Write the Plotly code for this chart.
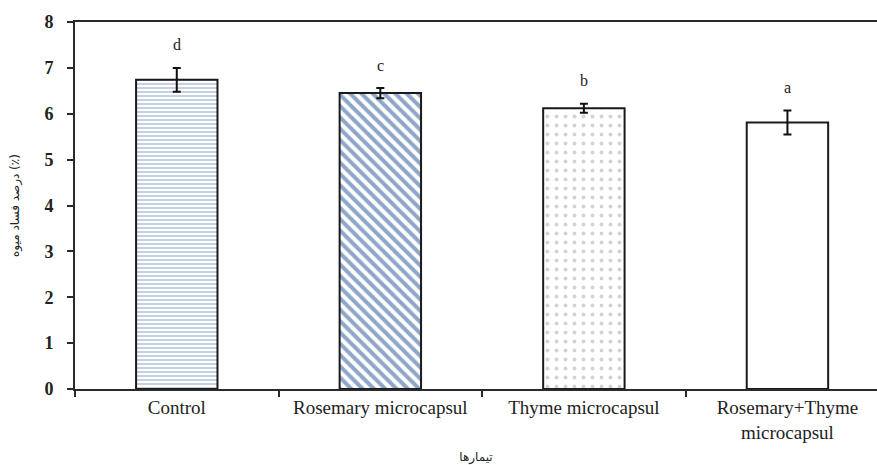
import plotly.graph_objects as go

categories = ["Control", "Rosemary microcapsul", "Thyme microcapsul", "Rosemary+Thyme<br>microcapsul"]
values = [6.74, 6.45, 6.12, 5.81]
errors = [0.26, 0.11, 0.10, 0.26]
letters = ["d", "c", "b", "a"]
y_ticks = [0, 1, 2, 3, 4, 5, 6, 7, 8]

patterns = ["-", "\\", ".", ""]
pat_colors = ["#7f98ba", "#1d4d8f", "#a8a8a8", "#000000"]
pat_sizes = [4, 8, 9, 8]
pat_solid = [0.45, 0.5, 0.15, 0.3]

fig = go.Figure()
for i, c in enumerate(categories):
    fig.add_trace(go.Bar(
        x=[c], y=[values[i]],
        width=0.4,
        marker=dict(
            color="white",
            line=dict(color="#1a1a1a", width=2),
            pattern=dict(shape=patterns[i], fgcolor=pat_colors[i], bgcolor="white",
                         size=pat_sizes[i], solidity=pat_solid[i], fillmode="overlay"),
        ),
        error_y=dict(type="data", array=[errors[i]], color="#111111", thickness=2, width=4),
        showlegend=False,
    ))
    fig.add_annotation(x=c, y=values[i] + errors[i] + 0.5, text=letters[i], showarrow=False,
                       font=dict(family="Liberation Serif", size=16, color="#222222"))

fig.update_layout(
    width=877, height=465,
    margin=dict(l=75, r=0, t=22, b=76),
    plot_bgcolor="white", paper_bgcolor="white",
    bargap=0.6,
    xaxis=dict(
        range=[-0.5, 3.44], showline=True, linecolor="#2a2a2a", linewidth=2, mirror=True,
        ticks="outside", tickson="boundaries", ticklen=6, tickcolor="#2a2a2a", tickwidth=2,
        tickfont=dict(family="Liberation Serif", size=19, color="#222222"),
        showgrid=False,
        title=dict(text="تیمارها", font=dict(family="DejaVu Sans", size=12, color="#222222"), standoff=12),
    ),
    yaxis=dict(
        range=[0, 8], tickvals=y_ticks, showline=True, linecolor="#2a2a2a", linewidth=2,
        ticks="outside", ticklen=6, tickcolor="#2a2a2a", tickwidth=2, ticklabelstandoff=10,
        tickfont=dict(family="Liberation Serif", size=18, color="#222222", weight="bold"),
        showgrid=False, zeroline=False,
        title=dict(text="درصد فساد میوه (٪)", font=dict(family="DejaVu Sans", size=12, color="#222222"), standoff=22),
    ),
)

fig.write_html("out.html")
